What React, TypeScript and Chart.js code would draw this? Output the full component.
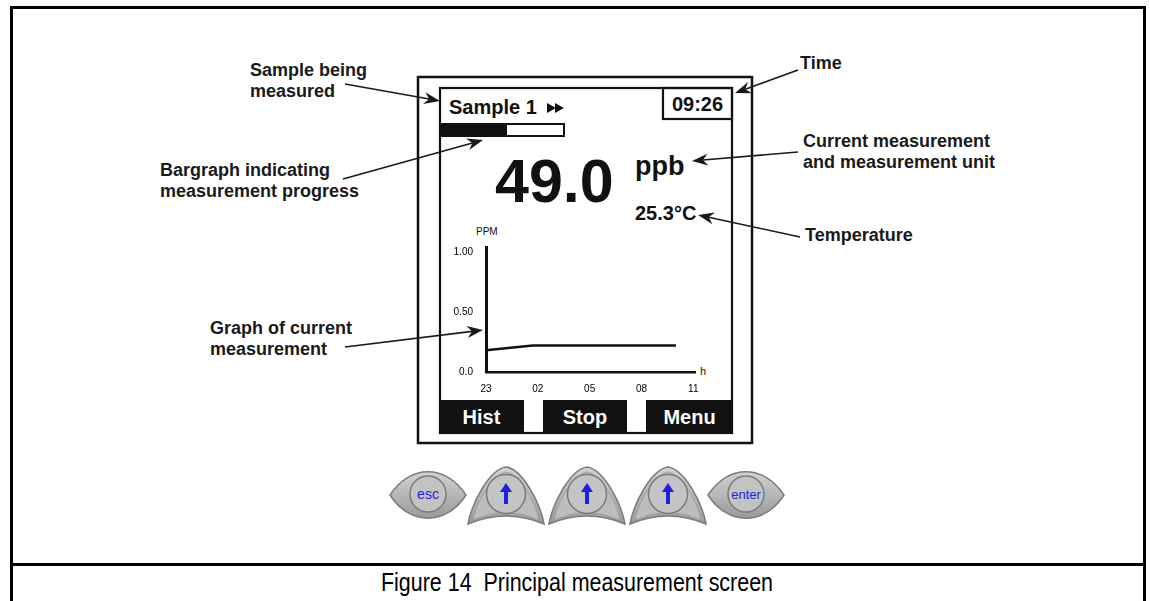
import React, { useEffect, useRef } from "react";
import { Chart, registerables } from "chart.js";

Chart.register(...registerables);

// Graph data (hours after 23:00, value in PPM)
const timeHours = [0, 2.7, 11];
const ppmValues = [0.18, 0.22, 0.22];
const xTickHours = [0, 3, 6, 9, 12];
const xTickLabels = ["23", "02", "05", "08", "11"];
const yTickValues = [0, 0.5, 1];
const yTickLabels = ["0.0", "0.50", "1.00"];

const FONT = "'Liberation Sans', Arial, Helvetica, sans-serif";

function Arrow({ x1, y1, x2, y2 }: { x1: number; y1: number; x2: number; y2: number }) {
  const dx = x2 - x1;
  const dy = y2 - y1;
  const len = Math.hypot(dx, dy);
  const ux = dx / len;
  const uy = dy / len;
  const nx = -uy;
  const ny = ux;
  const hl = 16;
  const hw = 6;
  const bx = x2 - hl * ux;
  const by = y2 - hl * uy;
  const notchX = x2 - 11 * ux;
  const notchY = y2 - 11 * uy;
  const pts = [
    [x2, y2],
    [bx + hw * nx, by + hw * ny],
    [notchX, notchY],
    [bx - hw * nx, by - hw * ny],
  ]
    .map((p) => p.join(","))
    .join(" ");
  return (
    <g>
      <line x1={x1} y1={y1} x2={notchX} y2={notchY} stroke="#1a1a1a" strokeWidth={1.6} />
      <polygon points={pts} fill="#1a1a1a" />
    </g>
  );
}

function LensButton({ cx, label, size }: { cx: number; label: string; size: number }) {
  const cy = 495;
  return (
    <g>
      <path
        d={`M ${cx - 38},${cy} C ${cx - 18},${cy - 31} ${cx + 18},${cy - 31} ${cx + 38},${cy} C ${cx + 18},${cy + 31} ${cx - 18},${cy + 31} ${cx - 38},${cy} Z`}
        fill="url(#btnGrad)"
        stroke="#7c7c7c"
        strokeWidth={1.5}
      />
      <circle cx={cx} cy={cy - 1} r={18} fill="#c3c3c3" stroke="#7a7a7a" strokeWidth={1.5} />
      <text x={cx} y={cy + 4} textAnchor="middle" fontFamily={FONT} fontSize={size} fill="#1f1fe0">
        {label}
      </text>
    </g>
  );
}

function UpButton({ cx }: { cx: number }) {
  const top = 467;
  const bot = 524;
  const cy = 494;
  return (
    <g>
      <path
        d={`M ${cx},${top} C ${cx + 16},${top + 2} ${cx + 34},${bot - 22} ${cx + 38},${bot} Q ${cx},${bot - 16} ${cx - 38},${bot} C ${cx - 34},${bot - 22} ${cx - 16},${top + 2} ${cx},${top} Z`}
        fill="url(#btnGrad)"
        stroke="#7c7c7c"
        strokeWidth={1.5}
      />
      <path
        d={`M ${cx},${top + 5} C ${cx + 13},${top + 7} ${cx + 29},${bot - 24} ${cx + 33},${bot - 4} Q ${cx},${bot - 19} ${cx - 33},${bot - 4} C ${cx - 29},${bot - 24} ${cx - 13},${top + 7} ${cx},${top + 5} Z`}
        fill="#bdbdbd"
        stroke="#a0a0a0"
        strokeWidth={1}
      />
      <circle cx={cx} cy={cy} r={19.5} fill="#c4c4c4" stroke="#7a7a7a" strokeWidth={1.5} />
      <polygon points={`${cx},${cy - 11} ${cx + 6},${cy - 2} ${cx - 6},${cy - 2}`} fill="#1f1fe0" />
      <rect x={cx - 2} y={cy - 3} width={4} height={13} fill="#1f1fe0" />
    </g>
  );
}

export default function App() {
  const canvasRef = useRef<HTMLCanvasElement | null>(null);

  useEffect(() => {
    const canvas = canvasRef.current;
    if (!canvas) return;
    const chart = new Chart(canvas, {
      type: "line",
      data: {
        datasets: [
          {
            data: timeHours.map((x, i) => ({ x, y: ppmValues[i] })),
            borderColor: "#111",
            borderWidth: 2.5,
            pointRadius: 0,
            tension: 0,
            fill: false,
          },
        ],
      },
      options: {
        animation: false,
        responsive: false,
        maintainAspectRatio: false,
        events: [],
        plugins: { legend: { display: false }, tooltip: { enabled: false } },
        layout: { padding: { left: 0, top: 6, right: 11, bottom: 0 } },
        scales: {
          x: {
            type: "linear",
            min: 0,
            max: 12.1,
            grid: { display: false },
            border: { display: true, color: "#111", width: 2.5 },
            afterBuildTicks: (s: any) => {
              s.ticks = xTickHours.map((v) => ({ value: v }));
            },
            afterFit: (s: any) => {
              s.height = 24;
            },
            ticks: {
              autoSkip: false,
              maxRotation: 0,
              padding: 3,
              color: "#000",
              font: { family: FONT, size: 10 },
              callback: (v: any) => {
                const i = xTickHours.indexOf(Number(v));
                return i >= 0 ? xTickLabels[i] : "";
              },
            },
          },
          y: {
            type: "linear",
            min: 0,
            max: 1.04,
            grid: { display: false },
            border: { display: true, color: "#111", width: 3 },
            afterBuildTicks: (s: any) => {
              s.ticks = yTickValues.map((v) => ({ value: v }));
            },
            afterFit: (s: any) => {
              s.width = 40;
            },
            ticks: {
              autoSkip: false,
              padding: 5,
              color: "#000",
              font: { family: FONT, size: 10 },
              callback: (v: any) => {
                const i = yTickValues.indexOf(Number(v));
                return i >= 0 ? yTickLabels[i] : "";
              },
            },
          },
        },
      },
    } as any);
    return () => chart.destroy();
  }, []);

  return (
    <div
      style={{
        position: "absolute",
        left: 0,
        top: 0,
        width: 1150,
        height: 601,
        overflow: "hidden",
        background: "#fff",
      }}
    >
      <svg width={1150} height={601} style={{ position: "absolute", left: 0, top: 0 }}>
        <defs>
          <linearGradient id="btnGrad" x1="0" y1="0" x2="0" y2="1">
            <stop offset="0" stopColor="#d2d2d2" />
            <stop offset="1" stopColor="#9a9a9a" />
          </linearGradient>
        </defs>
        {/* page frame */}
        <rect x={11.5} y={7.5} width={1133} height={700} fill="none" stroke="#000" strokeWidth={3} />
        <line x1={11} y1={564.5} x2={1145} y2={564.5} stroke="#000" strokeWidth={3} />
        <text
          x={577}
          y={591}
          textAnchor="middle"
          fontFamily="'Liberation Sans Narrow', 'Arial Narrow', Arial, sans-serif"
          fontSize={25}
          fill="#000"
          textLength={392}
          lengthAdjust="spacingAndGlyphs"
          style={{ whiteSpace: "pre" }}
        >
          {"Figure 14  Principal measurement screen"}
        </text>

        {/* device */}
        <rect x={418} y={77} width={334} height={366} fill="none" stroke="#111" strokeWidth={2.5} />
        <rect x={440} y={88} width={292} height={345} fill="#fff" stroke="#111" strokeWidth={2.2} />
        <rect x={663} y={88} width={69} height={31} fill="none" stroke="#111" strokeWidth={2.2} />
        <text x={697.5} y={111} textAnchor="middle" fontFamily={FONT} fontWeight="bold" fontSize={20} fill="#111">
          09:26
        </text>
        <text x={449} y={114} fontFamily={FONT} fontWeight="bold" fontSize={20} fill="#111">
          Sample 1
        </text>
        <polygon points="547,103 556,108 547,113" fill="#111" />
        <polygon points="555,103 564,108 555,113" fill="#111" />
        <rect x={441} y={124} width={123} height={12} fill="#fff" stroke="#111" strokeWidth={2} />
        <rect x={441} y={124} width={66} height={12} fill="#111" />
        <text x={495} y={202} fontFamily={FONT} fontWeight="bold" fontSize={61} fill="#111">
          49.0
        </text>
        <text x={635} y={175} fontFamily={FONT} fontWeight="bold" fontSize={27} fill="#111">
          ppb
        </text>
        <text x={635} y={220} fontFamily={FONT} fontWeight="bold" fontSize={20} fill="#111">
          25.3°C
        </text>
        <text x={476} y={235} fontFamily={FONT} fontSize={10} fill="#111">
          PPM
        </text>
        <text x={700} y={375} fontFamily={FONT} fontSize={11} fill="#111">
          h
        </text>

        {/* soft keys */}
        <rect x={439} y={400} width={85} height={34} fill="#111" />
        <rect x={543} y={400} width={84} height={34} fill="#111" />
        <rect x={646} y={400} width={87} height={34} fill="#111" />
        <text x={481.5} y={424} textAnchor="middle" fontFamily={FONT} fontWeight="bold" fontSize={20} fill="#fff">
          Hist
        </text>
        <text x={585} y={424} textAnchor="middle" fontFamily={FONT} fontWeight="bold" fontSize={20} fill="#fff">
          Stop
        </text>
        <text x={689.5} y={424} textAnchor="middle" fontFamily={FONT} fontWeight="bold" fontSize={20} fill="#fff">
          Menu
        </text>

        {/* hardware buttons */}
        <LensButton cx={428} label="esc" size={14} />
        <UpButton cx={506} />
        <UpButton cx={587} />
        <UpButton cx={668} />
        <LensButton cx={746} label="enter" size={13} />

        {/* annotations */}
        <g fontFamily={FONT} fontWeight="bold" fontSize={18} fill="#1a1a1a">
          <text x={250} y={76}>Sample being</text>
          <text x={250} y={97}>measured</text>
          <text x={160} y={176}>Bargraph indicating</text>
          <text x={160} y={197}>measurement progress</text>
          <text x={210} y={334}>Graph of current</text>
          <text x={210} y={355}>measurement</text>
          <text x={800} y={69}>Time</text>
          <text x={803} y={147}>Current measurement</text>
          <text x={803} y={168}>and measurement unit</text>
          <text x={805} y={241}>Temperature</text>
        </g>
        <Arrow x1={345} y1={84} x2={440} y2={101} />
        <Arrow x1={343} y1={179} x2={483} y2={140} />
        <Arrow x1={345} y1={347} x2={483} y2={330} />
        <Arrow x1={798} y1={70} x2={735} y2={93} />
        <Arrow x1={798} y1={152} x2={692} y2={161} />
        <Arrow x1={800} y1={237} x2={698} y2={215} />
      </svg>
      <canvas
        ref={canvasRef}
        width={260}
        height={160}
        style={{ position: "absolute", left: 446, top: 236, width: 260, height: 160 }}
      />
    </div>
  );
}
